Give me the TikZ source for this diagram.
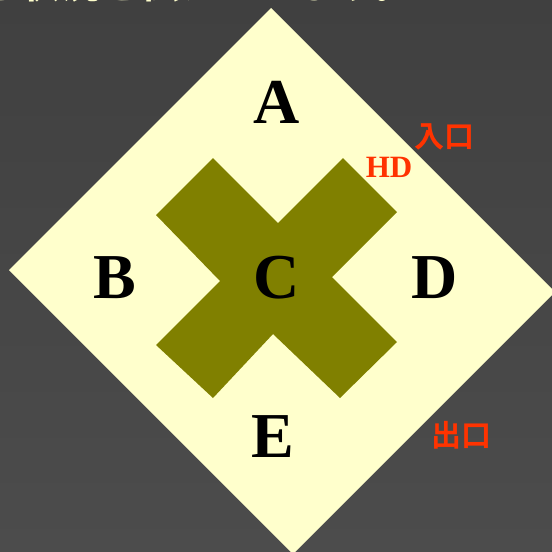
\documentclass[tikz,border=0pt]{standalone}
\usepackage{fontspec}
\setmainfont{Liberation Serif}
\newfontfamily\cjk{Noto Sans CJK JP}[BoldFont={* Bold}]
\definecolor{bgtop}{HTML}{404040}
\definecolor{bgbot}{HTML}{4C4C4C}
\definecolor{pale}{HTML}{FFFFCC}
\definecolor{olivex}{HTML}{808000}
\definecolor{redlab}{HTML}{FF3300}
\begin{document}
\begin{tikzpicture}[x=1pt,y=-1pt,
  letter/.style={font=\fontsize{64}{64}\selectfont\bfseries, text=black, inner sep=0pt},
  redcjk/.style={font=\cjk\bfseries\fontsize{30}{30}\selectfont, text=redlab, inner sep=0pt},
  redlat/.style={font=\fontsize{31}{31}\selectfont\bfseries, text=redlab, inner sep=0pt}]
\useasboundingbox (0,0) rectangle (552,552);
\clip (0,0) rectangle (552,552);
\shade[top color=bgtop, bottom color=bgbot] (0,0) rectangle (552,552);
% cut-off title line
\node[anchor=base west, inner sep=0pt, text=pale, font=\cjk\bfseries\fontsize{40}{40}\selectfont] (title) at (-20,-1.5) {る状況を伝えています。};
% diamond
\fill[pale] (271,8) -- (555,292) -- (293,554) -- (9,270) -- cycle;
% cross
\fill[olivex] (213,158) -- (278,223) -- (343,158) -- (397,212) -- (332,277) -- (397,342) -- (340,398) -- (273,334) -- (213,398) -- (156,345) -- (220,281) -- (156,215) -- cycle;
% letters
\node[letter] (A) at (277,102) {A};
\node[letter] (B) at (115,278) {B};
\node[letter] (C) at (277,278) {C};
\node[letter] (D) at (435,278) {D};
\node[letter] (E) at (273,437) {E};
\node[redlat] (HD) at (389,167) {HD};
\node[redcjk] (in) at (444,137) {入口};
\node[redcjk] (out) at (461,435) {出口};
\end{tikzpicture}
\end{document}
